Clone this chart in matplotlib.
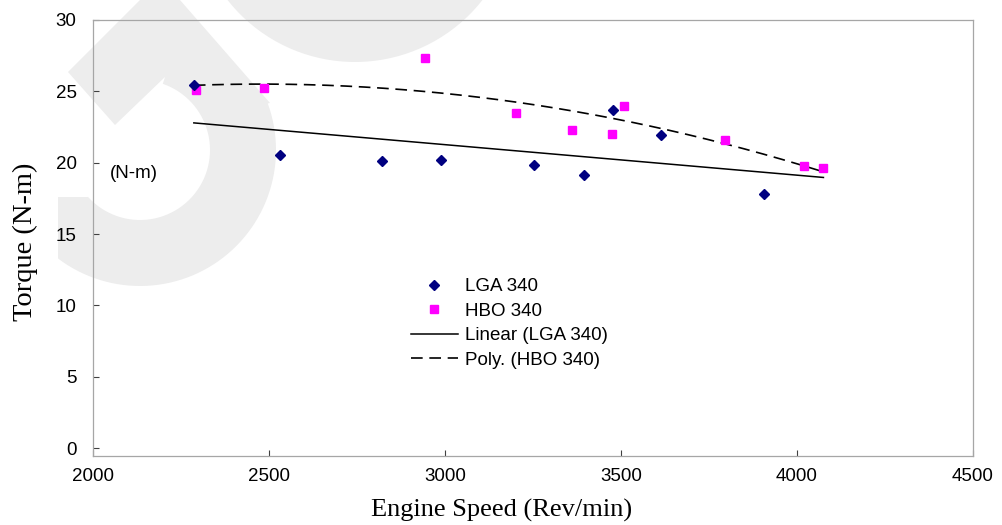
import numpy as np
import matplotlib
matplotlib.use("Agg")
import matplotlib.pyplot as plt
from matplotlib.patches import Polygon, Circle

# ---- data ----
lga_speed = [2286, 2531, 2821, 2987, 3252, 3396, 3478, 3613, 3907]
lga_torque = [25.4, 20.5, 20.1, 20.2, 19.85, 19.15, 23.7, 21.9, 17.8]

hbo_speed = [2293, 2485, 2944, 3200, 3361, 3473, 3508, 3795, 4020, 4075]
hbo_torque = [25.1, 25.25, 27.3, 23.45, 22.3, 22.0, 23.95, 21.55, 19.75, 19.6]

labels = ["LGA 340", "HBO 340", "Linear (LGA 340)", "Poly. (HBO 340)"]
x_ticks = [2000, 2500, 3000, 3500, 4000, 4500]
y_ticks = [0, 5, 10, 15, 20, 25, 30]

sans = "Liberation Sans"
serif = "Liberation Serif"
W, H = 1002, 525

fig = plt.figure(figsize=(W / 100, H / 100), dpi=100)

# light grey watermark behind everything
bg = fig.add_axes([0, 0, 1, 1], zorder=0)
bg.set_xlim(0, W)
bg.set_ylim(H, 0)
bg.axis("off")
wm = "#ededed"
cx, cy, r_out, r_in = 140, 150, 136, 70
t_out = np.radians(np.linspace(-20, 127, 60))
t_in = np.radians(np.linspace(138, -71, 60))
pts = [(140, 0), (180, 0), (270, 103)]
pts += [(cx + r_out * np.cos(t), cy + r_out * np.sin(t)) for t in t_out]
pts += [(58, 257), (58, 197), (88, 197)]
pts += [(cx + r_in * np.cos(t), cy + r_in * np.sin(t)) for t in t_in]
pts += [(165, 77), (115, 125), (68, 72)]
bg.add_patch(Polygon(pts, closed=True, fc=wm, ec="none"))
bg.add_patch(Circle((355, -100), 162, fc=wm, ec="none"))

ax = fig.add_axes([93.2 / W, 1 - 455.7 / H, (973 - 93.2) / W, (455.7 - 19.8) / H], zorder=1)
ax.set_facecolor("none")

ax.plot(lga_speed, lga_torque, linestyle="none", marker="D", ms=4.8,
        color="#000080", mec="#000080", label=labels[0], zorder=4)
ax.plot(hbo_speed, hbo_torque, linestyle="none", marker="s", ms=5.6,
        color="#ff00ff", mec="#ff00ff", label=labels[1], zorder=3)

# trendlines (Excel style)
all_x = np.array(lga_speed + hbo_speed, dtype=float)
xs = np.linspace(all_x.min(), all_x.max(), 200)
lin = np.polyfit(lga_speed, lga_torque, 1)
ax.plot(xs, np.polyval(lin, xs), color="black", lw=1.1, label=labels[2], zorder=2)
poly = np.polyfit(hbo_speed, hbo_torque, 2)
ax.plot(xs, np.polyval(poly, xs), color="black", lw=1.2, linestyle=(0, (7, 4)),
        label=labels[3], zorder=2)

ax.set_xlim(2000, 4500)
ax.set_ylim(-0.52, 30)
ax.set_xticks(x_ticks)
ax.set_yticks(y_ticks)
for s in ax.spines.values():
    s.set_color("#a6a6a6")
    s.set_linewidth(0.9)
ax.tick_params(axis="x", direction="in", length=4, width=0.8, color="#404040", pad=9)
ax.tick_params(axis="y", direction="in", length=4, width=0.8, color="#404040", pad=12)
for lab in ax.get_xticklabels() + ax.get_yticklabels():
    lab.set_fontfamily(sans)
    lab.set_fontsize(13.5)

fig.text(502 / W, 1 - 510 / H, "Engine Speed (Rev/min)", ha="center", va="center",
         family=serif, fontsize=19)
fig.text(25 / W, 1 - 242 / H, "Torque (N-m)", ha="center", va="center",
         rotation=90, family=serif, fontsize=20.5)
fig.text(110 / W, 1 - 173 / H, "(N-m)", ha="left", va="center", family=sans, fontsize=13.5)

ax.legend(loc="upper left", bbox_to_anchor=(411 / W, 1 - 278 / H),
          bbox_transform=fig.transFigure, frameon=False, numpoints=1,
          handlelength=2.5, handletextpad=0.4, labelspacing=0.4,
          borderaxespad=0, borderpad=0, prop={"family": sans, "size": 13.5})

fig.savefig("out.png", dpi=100)
